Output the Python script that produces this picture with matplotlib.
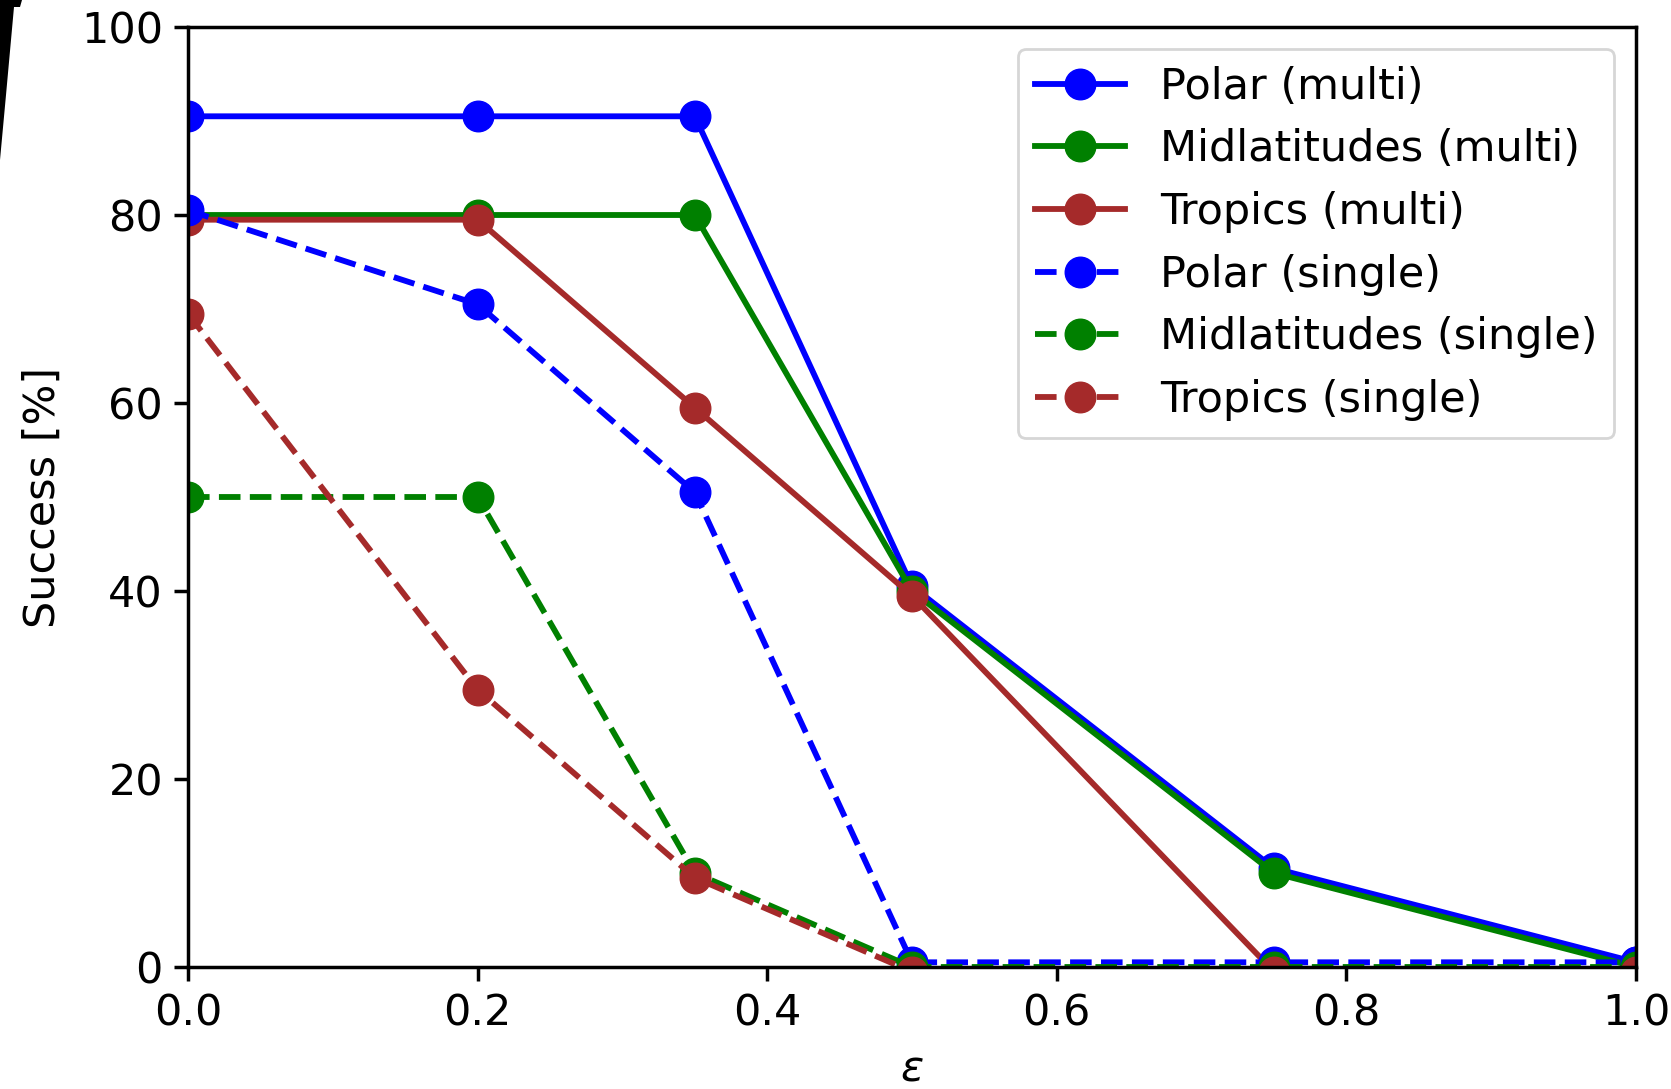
import matplotlib
matplotlib.use("Agg")
import matplotlib.pyplot as plt
from matplotlib.patches import Polygon

eps = [0.0, 0.2, 0.35, 0.5, 0.75, 1.0]

polar_multi = [90.5, 90.5, 90.5, 40.5, 10.5, 0.5]
mid_multi = [80, 80, 80, 40, 10, 0]
trop_multi = [79.5, 79.5, 59.5, 39.5, -0.5, -0.5]
polar_single = [80.5, 70.5, 50.5, 0.5, 0.5, 0.5]
mid_single = [50, 50, 10, 0, 0, 0]
trop_single = [69.5, 29.5, 9.5, -0.5, -0.5, -0.5]

series = [
    ("Polar (multi)", polar_multi, "blue", "-"),
    ("Midlatitudes (multi)", mid_multi, "green", "-"),
    ("Tropics (multi)", trop_multi, "brown", "-"),
    ("Polar (single)", polar_single, "blue", "--"),
    ("Midlatitudes (single)", mid_single, "green", "--"),
    ("Tropics (single)", trop_single, "brown", "--"),
]

plt.rcParams["font.family"] = ["DejaVu Sans"]
W, H = 1671, 1089
fig = plt.figure(figsize=(W / 100, H / 100), dpi=100)
ax = fig.add_axes([188 / W, 1 - 967 / H, (1636 - 188) / W, (967 - 27) / H])

for label, vals, color, ls in series:
    ax.plot(eps, vals, ls, color=color, marker="o", lw=4.2, ms=22, label=label)

ax.set_xlim(0, 1.0)
ax.set_ylim(0, 100)
ax.set_xticks([0.0, 0.2, 0.4, 0.6, 0.8, 1.0])
ax.set_yticks([0, 20, 40, 60, 80, 100])
ax.tick_params(labelsize=31, length=10, width=2.5, pad=8)
for s in ax.spines.values():
    s.set_linewidth(2.5)
ax.set_xlabel(r"$\epsilon$", fontsize=31, labelpad=10)
ax.set_ylabel("Success [%]", fontsize=31, labelpad=12)

leg = ax.legend(fontsize=31, loc="upper right", handlelength=2.1,
                borderpad=0.4, labelspacing=0.48, framealpha=0.8)
leg.get_frame().set_linewidth(2)

# dark screenshot artefact in the top-left corner (pixel coords, y down)
corner = [(0, 0), (22, 0), (20, 7), (14, 7), (11, 40), (6, 95), (0, 160)]
fig.patches.append(Polygon([(x / W, 1 - y / H) for x, y in corner], closed=True,
                           transform=fig.transFigure, facecolor="black",
                           edgecolor="none"))

fig.savefig("out.png", dpi=100)
